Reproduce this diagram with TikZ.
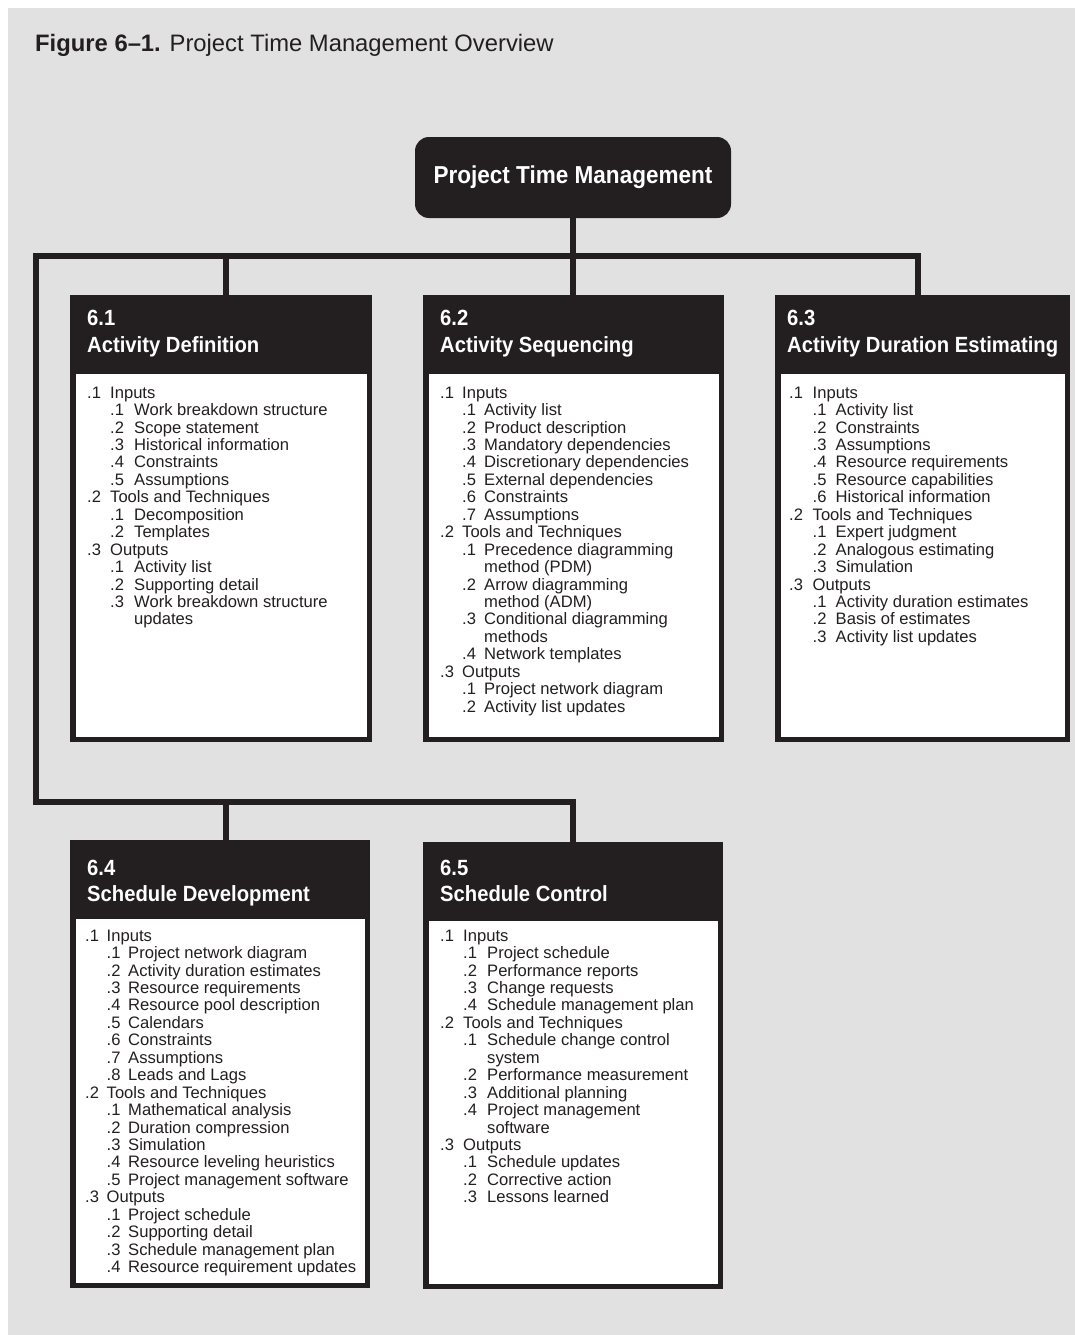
\documentclass[tikz,border=0pt]{standalone}
\usepackage{fontspec}
\setmainfont{Liberation Sans}
\newfontfamily\hdfont[FakeStretch=0.92]{Liberation Sans}

\definecolor{ink}{RGB}{35,31,32}
\definecolor{bggray}{RGB}{225,225,225}

% column widths of the numbered lists
\newlength\colA
\newlength\colB
\newcommand\lvA[2]{\makebox[\colA][l]{#1}#2}
\newcommand\lvB[2]{\hspace*{\colA}\makebox[\colB][l]{#1}#2}
\newcommand\lvC[1]{\hspace*{\colA}\hspace*{\colB}#1}

\begin{document}
\begin{tikzpicture}[x=1pt,y=-1pt,
  conn/.style={draw=ink, line width=6pt, line join=miter},
  procbox/.style={draw=ink, fill=white, line width=5.5pt, inner sep=0pt, outer sep=0pt},
  topbox/.style={fill=ink, rounded corners=14pt, text=white, inner sep=0pt,
    minimum width=316pt, minimum height=81pt,
    font=\hdfont\bfseries\fontsize{24.5}{28}\selectfont},
  hdtext/.style={anchor=base west, inner sep=0pt, text=white,
    font=\hdfont\bfseries\fontsize{22}{26}\selectfont},
  listtext/.style 2 args={anchor=north west, inner sep=0pt, align=left, text=ink,
    font={\setlength\colA{#1}\setlength\colB{#2}\fontsize{16.6}{17.45}\selectfont}},
]
\useasboundingbox (0,0) rectangle (1075,1335);
\fill[bggray] (8,8) rectangle (1075,1335);

% caption
\node[anchor=base west, inner sep=0pt, text=ink, font=\fontsize{23.8}{28}\selectfont]
  (title) at (35,52) {\textbf{Figure 6–1.} Project Time Management Overview};

% root
\node[topbox] (ptm) at (573,177.5) {Project Time Management};

% process boxes
\node[procbox, minimum width=296.5pt, minimum height=441.5pt] (b61) at (221,518.5) {};
\node[procbox, minimum width=295.5pt, minimum height=441.5pt] (b62) at (573.5,518.5) {};
\node[procbox, minimum width=289.5pt, minimum height=441.5pt] (b63) at (922.5,518.5) {};
\node[procbox, minimum width=294.5pt, minimum height=442.5pt] (b64) at (220,1064) {};
\node[procbox, minimum width=294.5pt, minimum height=441.5pt] (b65) at (573,1065.5) {};

% dark header bands
\foreach \b in {b61,b62,b63,b64,b65}
  \fill[ink] (\b.north west) rectangle ([yshift=-76.25pt]\b.north east);

% connectors
\coordinate (j1) at (226,256);
\coordinate (j2) at (573,256);
\coordinate (j3) at (918,256);
\coordinate (jl) at (36,256);
\coordinate (kl) at (36,802);
\coordinate (k1) at (226,802);
\coordinate (k2) at (573,802);
\draw[conn] (ptm.south) -- (j2);
\draw[conn] (j3 |- b63.north) -- (j3) -- (jl) -- (kl) -- (k2) -- (k2 |- b65.north);
\draw[conn] (j1) -- (j1 |- b61.north);
\draw[conn] (j2) -- (j2 |- b62.north);
\draw[conn] (k1) -- (k1 |- b64.north);

% header titles
\node[hdtext] (h61a) at (87,325) {6.1};
\node[hdtext] (h61b) at (87,352) {Activity Definition};
\node[hdtext] (h62a) at (440,325) {6.2};
\node[hdtext] (h62b) at (440,352) {Activity Sequencing};
\node[hdtext] (h63a) at (787,325) {6.3};
\node[hdtext] (h63b) at (787,352) {Activity Duration Estimating};
\node[hdtext] (h64a) at (87,875) {6.4};
\node[hdtext] (h64b) at (87,901) {Schedule Development};
\node[hdtext] (h65a) at (440,875) {6.5};
\node[hdtext] (h65b) at (440,901) {Schedule Control};

% contents
\node[listtext={23pt}{24pt}] (t61) at (87,386.5) {%
\lvA{.1}{Inputs}\\
\lvB{.1}{Work breakdown structure}\\
\lvB{.2}{Scope statement}\\
\lvB{.3}{Historical information}\\
\lvB{.4}{Constraints}\\
\lvB{.5}{Assumptions}\\
\lvA{.2}{Tools and Techniques}\\
\lvB{.1}{Decomposition}\\
\lvB{.2}{Templates}\\
\lvA{.3}{Outputs}\\
\lvB{.1}{Activity list}\\
\lvB{.2}{Supporting detail}\\
\lvB{.3}{Work breakdown structure}\\
\lvC{updates}};

\node[listtext={22pt}{22pt}] (t62) at (440,386.5) {%
\lvA{.1}{Inputs}\\
\lvB{.1}{Activity list}\\
\lvB{.2}{Product description}\\
\lvB{.3}{Mandatory dependencies}\\
\lvB{.4}{Discretionary dependencies}\\
\lvB{.5}{External dependencies}\\
\lvB{.6}{Constraints}\\
\lvB{.7}{Assumptions}\\
\lvA{.2}{Tools and Techniques}\\
\lvB{.1}{Precedence diagramming}\\
\lvC{method (PDM)}\\
\lvB{.2}{Arrow diagramming}\\
\lvC{method (ADM)}\\
\lvB{.3}{Conditional diagramming}\\
\lvC{methods}\\
\lvB{.4}{Network templates}\\
\lvA{.3}{Outputs}\\
\lvB{.1}{Project network diagram}\\
\lvB{.2}{Activity list updates}};

\node[listtext={23.5pt}{23pt}] (t63) at (789,386.5) {%
\lvA{.1}{Inputs}\\
\lvB{.1}{Activity list}\\
\lvB{.2}{Constraints}\\
\lvB{.3}{Assumptions}\\
\lvB{.4}{Resource requirements}\\
\lvB{.5}{Resource capabilities}\\
\lvB{.6}{Historical information}\\
\lvA{.2}{Tools and Techniques}\\
\lvB{.1}{Expert judgment}\\
\lvB{.2}{Analogous estimating}\\
\lvB{.3}{Simulation}\\
\lvA{.3}{Outputs}\\
\lvB{.1}{Activity duration estimates}\\
\lvB{.2}{Basis of estimates}\\
\lvB{.3}{Activity list updates}};

\node[listtext={21.5pt}{21.5pt}] (t64) at (85,929.5) {%
\lvA{.1}{Inputs}\\
\lvB{.1}{Project network diagram}\\
\lvB{.2}{Activity duration estimates}\\
\lvB{.3}{Resource requirements}\\
\lvB{.4}{Resource pool description}\\
\lvB{.5}{Calendars}\\
\lvB{.6}{Constraints}\\
\lvB{.7}{Assumptions}\\
\lvB{.8}{Leads and Lags}\\
\lvA{.2}{Tools and Techniques}\\
\lvB{.1}{Mathematical analysis}\\
\lvB{.2}{Duration compression}\\
\lvB{.3}{Simulation}\\
\lvB{.4}{Resource leveling heuristics}\\
\lvB{.5}{Project management software}\\
\lvA{.3}{Outputs}\\
\lvB{.1}{Project schedule}\\
\lvB{.2}{Supporting detail}\\
\lvB{.3}{Schedule management plan}\\
\lvB{.4}{Resource requirement updates}};

\node[listtext={23pt}{24pt}] (t65) at (440,929.5) {%
\lvA{.1}{Inputs}\\
\lvB{.1}{Project schedule}\\
\lvB{.2}{Performance reports}\\
\lvB{.3}{Change requests}\\
\lvB{.4}{Schedule management plan}\\
\lvA{.2}{Tools and Techniques}\\
\lvB{.1}{Schedule change control}\\
\lvC{system}\\
\lvB{.2}{Performance measurement}\\
\lvB{.3}{Additional planning}\\
\lvB{.4}{Project management}\\
\lvC{software}\\
\lvA{.3}{Outputs}\\
\lvB{.1}{Schedule updates}\\
\lvB{.2}{Corrective action}\\
\lvB{.3}{Lessons learned}};
\end{tikzpicture}
\end{document}
